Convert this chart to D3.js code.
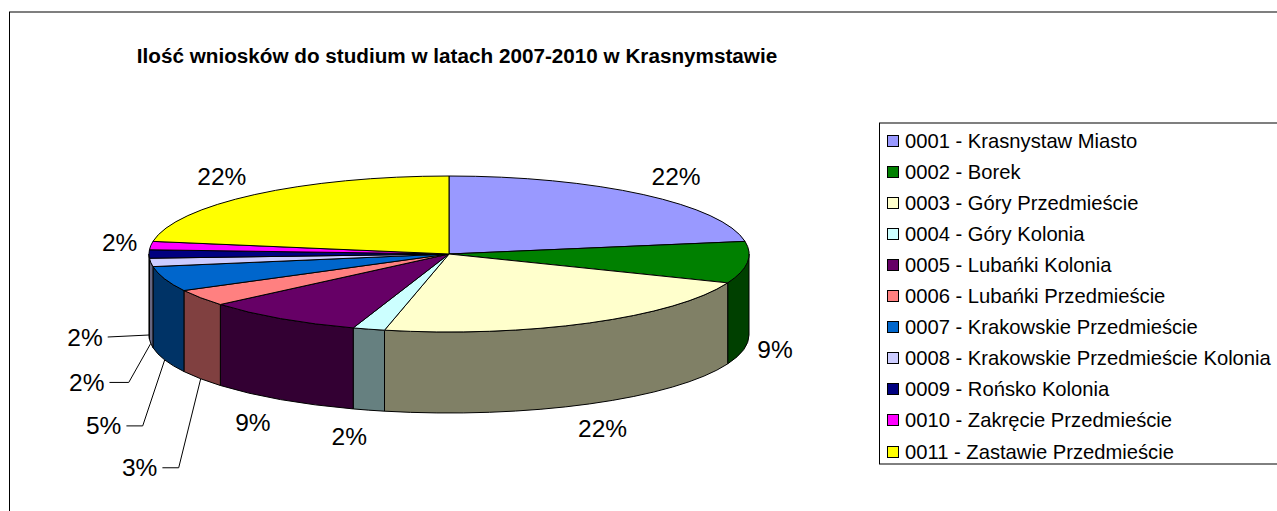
<!DOCTYPE html>
<html><head><meta charset="utf-8">
<script src="https://cdn.jsdelivr.net/npm/d3@7"></script>
<style>html,body{margin:0;padding:0;background:#fff;overflow:hidden}svg{display:block}text{font-family:"Liberation Sans",Arial,sans-serif;fill:#000}</style>
</head><body><svg id="c" width="1277" height="511"></svg>
<script>
const title = "Ilość wniosków do studium w latach 2007-2010 w Krasnymstawie";
const categories = [
  "0001 - Krasnystaw Miasto",
  "0002 - Borek",
  "0003 - Góry Przedmieście",
  "0004 - Góry Kolonia",
  "0005 - Lubańki Kolonia",
  "0006 - Lubańki Przedmieście",
  "0007 - Krakowskie Przedmieście",
  "0008 - Krakowskie Przedmieście Kolonia",
  "0009 - Rońsko Kolonia",
  "0010 - Zakręcie Przedmieście",
  "0011 - Zastawie Przedmieście"
];
const counts = [13, 5, 13, 1, 5, 2, 3, 1, 1, 1, 13];
const colors = ["#9999FF","#008000","#FFFFCC","#CCFFFF","#660066","#FF8080","#0066CC","#CCCCFF","#000080","#FF00FF","#FFFF00"];
// slices labelled with leader lines, and label offset from the slice's anchor
const leaderLabels = [
  {cat: "0006 - Lubańki Przedmieście", off: [-61, 89]},
  {cat: "0007 - Krakowskie Przedmieście", off: [-61, 66]},
  {cat: "0008 - Krakowskie Przedmieście Kolonia", off: [-64, 39]},
  {cat: "0009 - Rońsko Kolonia", off: [-64, 2]}
];

const svg = d3.select("#c");

// chart frame
svg.append("rect").attr("x", 9.5).attr("y", 12).attr("width", 1400).attr("height", 600)
  .attr("fill", "#fff").attr("stroke", "#000").attr("stroke-width", 1);

// title
svg.append("text").attr("x", 457).attr("y", 55).attr("text-anchor", "middle")
  .attr("dominant-baseline", "central").attr("font-size", 20.7).attr("font-weight", "bold")
  .text(title);

// 3D pie geometry
const cx = 449, cy = 254, rx = 300, ry = 78, depth = 81;
const color = d3.scaleOrdinal(categories, colors);
const side = c => { const r = d3.rgb(c); return d3.rgb(r.r * 0.5, r.g * 0.5, r.b * 0.5).formatHex(); };
const total = d3.sum(counts);
const arcs = d3.pie().sort(null).value(d => d.v).startAngle(0).endAngle(2 * Math.PI)(
  categories.map((c, i) => ({cat: c, v: counts[i]})));

const pt = (a, dy = 0) => [cx + rx * Math.sin(a), cy - ry * Math.cos(a) + dy];

const gSide = svg.append("g");
const gTop = svg.append("g");
const H0 = Math.PI / 2, H1 = 3 * Math.PI / 2;

arcs.forEach(d => {
  // side wall (front half only)
  const a0 = Math.max(d.startAngle, H0), a1 = Math.min(d.endAngle, H1);
  if (a1 > a0) {
    const p0 = pt(a0), p1 = pt(a1), q1 = pt(a1, depth), q0 = pt(a0, depth);
    const large = (a1 - a0) > Math.PI ? 1 : 0;
    const path = `M${p0}A${rx},${ry} 0 ${large} 1 ${p1}L${q1}A${rx},${ry} 0 ${large} 0 ${q0}Z`;
    gSide.append("path").attr("d", path).attr("fill", side(color(d.data.cat)))
      .attr("stroke", "#000").attr("stroke-width", 1).attr("stroke-linejoin", "round");
  }
  // top face
  const s = pt(d.startAngle), e = pt(d.endAngle);
  const large = (d.endAngle - d.startAngle) > Math.PI ? 1 : 0;
  gTop.append("path").attr("d", `M${cx},${cy}L${s}A${rx},${ry} 0 ${large} 1 ${e}Z`)
    .attr("fill", color(d.data.cat)).attr("stroke", "#000").attr("stroke-width", 1)
    .attr("stroke-linejoin", "round");
});

// labels
const pctText = d => Math.round(d.data.v / total * 100) + "%";
const gLab = svg.append("g");
const leaderMap = new Map(leaderLabels.map(l => [l.cat, l.off]));
arcs.forEach(d => {
  const m = (d.startAngle + d.endAngle) / 2;
  const off = leaderMap.get(d.data.cat);
  if (off) {
    const front = m >= H0 - 1e-6 && m <= H1 + 1e-6;
    const anchor = pt(m, front ? depth : 0);
    const lx = anchor[0] + off[0], ly = anchor[1] + off[1];
    const t = gLab.append("text").attr("x", lx).attr("y", ly).attr("text-anchor", "middle")
      .attr("dominant-baseline", "central").attr("font-size", 24.5).text(pctText(d));
    const hw = t.node().getComputedTextLength() / 2;
    const pts = [[lx + hw + 5, ly]];
    if (Math.abs(ly - anchor[1]) > 10) pts.push([anchor[0] - 22, ly]);
    pts.push(anchor);
    gLab.append("path").attr("d", d3.line()(pts)).attr("fill", "none")
      .attr("stroke", "#000").attr("stroke-width", 1);
  } else {
    const s = Math.sin(m), c = Math.cos(m);
    const front = c < 0;
    const x = cx + (rx + 28 + 30 * Math.max(0, c)) * s - ((front && s < 0) ? 12 : 0);
    const y = cy - (ry + 24) * c + (front ? depth + 3 : 0);
    gLab.append("text").attr("x", x).attr("y", y).attr("text-anchor", "middle")
      .attr("dominant-baseline", "central").attr("font-size", 24.5).text(pctText(d));
  }
});

// legend
const lg = svg.append("g");
lg.append("rect").attr("x", 879.5).attr("y", 123).attr("width", 500).attr("height", 341)
  .attr("fill", "#fff").attr("stroke", "#000").attr("stroke-width", 1);
const ly = d3.scalePoint().domain(categories).range([140.5, 451.5]);
categories.forEach(c => {
  const y = ly(c);
  lg.append("rect").attr("x", 887.5).attr("y", Math.round(y) - 5.5).attr("width", 11).attr("height", 11)
    .attr("fill", color(c)).attr("stroke", "#000").attr("stroke-width", 1);
  lg.append("text").attr("x", 905).attr("y", y).attr("dominant-baseline", "central")
    .attr("font-size", 20.2).text(c);
});
</script></body></html>
